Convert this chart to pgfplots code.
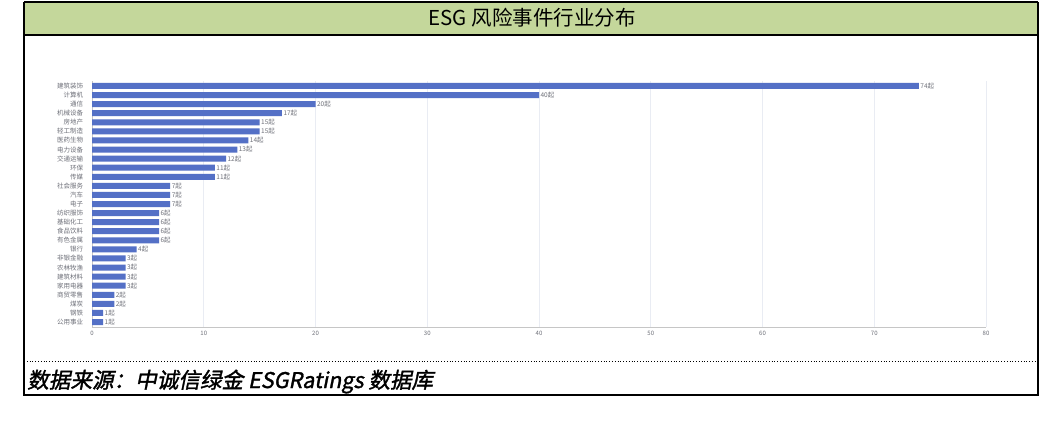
\documentclass[border=0pt]{standalone}
\usepackage{fontspec}
\setmainfont{Noto Sans CJK SC}
\newfontfamily\footfont[FakeSlant=0.2,FakeBold=1.5]{Noto Sans CJK SC}
\usepackage{pgfplots}
\pgfplotsset{compat=1.18}
\definecolor{barblue}{HTML}{5470C6}
\definecolor{titlegreen}{HTML}{C4D79B}
\definecolor{gridc}{HTML}{E9ECF3}
\definecolor{axgray}{HTML}{6E7079}

\begin{document}
\begin{tikzpicture}
\begin{scope}[x=1pt,y=1pt]
\useasboundingbox (0,0) rectangle (1040,429);
\fill[white] (0,0) rectangle (1040,429);
\fill[titlegreen] (24,427) rectangle (1038,394);
\draw[line width=2pt] (24,427) -- (1038,427);
\draw[line width=2pt] (24,394) -- (1038,394);
\draw[line width=1.2pt] (24,427) -- (24,34) -- (1038,34) -- (1038,427);
\draw[dotted, line width=0.8pt] (24,68) -- (1038,68);
\node at (532,411) {\fontsize{20.5}{21}\selectfont ESG 风险事件行业分布};
\node[anchor=base west, inner sep=0pt] at (27,41) {\footfont\fontsize{21.6}{23}\selectfont 数据来源：中诚信绿金 ESGRatings 数据库};
\end{scope}

\begin{axis}[
  at={(92pt,102pt)}, anchor=south west,
  scale only axis, width=894pt, height=246pt,
  xbar, bar width=6pt,
  xmin=0, xmax=80, ymin=-0.55, ymax=26.55,
  y dir=reverse, enlargelimits=false,
  xtick={0,10,...,80},
  ytick={0,...,26},
  yticklabels={建筑装饰,计算机,通信,机械设备,房地产,轻工制造,医药生物,电力设备,交通运输,环保,传媒,社会服务,汽车,电子,纺织服饰,基础化工,食品饮料,有色金属,银行,非银金融,农林牧渔,建筑材料,家用电器,商贸零售,煤炭,钢铁,公用事业},
  axis x line*=bottom, axis y line*=left,
  axis line style={gray!45, line width=0.9pt},
  xtick style={draw=none}, ytick style={draw=none},
  xmajorgrids, grid style={gridc, line width=0.6pt},
  /pgf/number format/assume math mode=true,
  xticklabel style={font=\fontsize{6}{6}\selectfont, text=axgray, yshift=-1pt},
  yticklabel style={font=\fontsize{6.5}{7}\selectfont, text=axgray, xshift=-1pt},
  nodes near coords={\pgfmathprintnumber{\pgfplotspointmeta}起},
  every node near coord/.append style={font=\fontsize{6.5}{7}\selectfont, text=axgray, xshift=-2pt},
]
\addplot[fill=barblue, draw=none] coordinates {
(74,0) (40,1) (20,2) (17,3) (15,4) (15,5) (14,6) (13,7) (12,8) (11,9) (11,10)
(7,11) (7,12) (7,13) (6,14) (6,15) (6,16) (6,17) (4,18) (3,19) (3,20) (3,21)
(3,22) (2,23) (2,24) (1,25) (1,26)
};
\end{axis}
\end{tikzpicture}
\end{document}
